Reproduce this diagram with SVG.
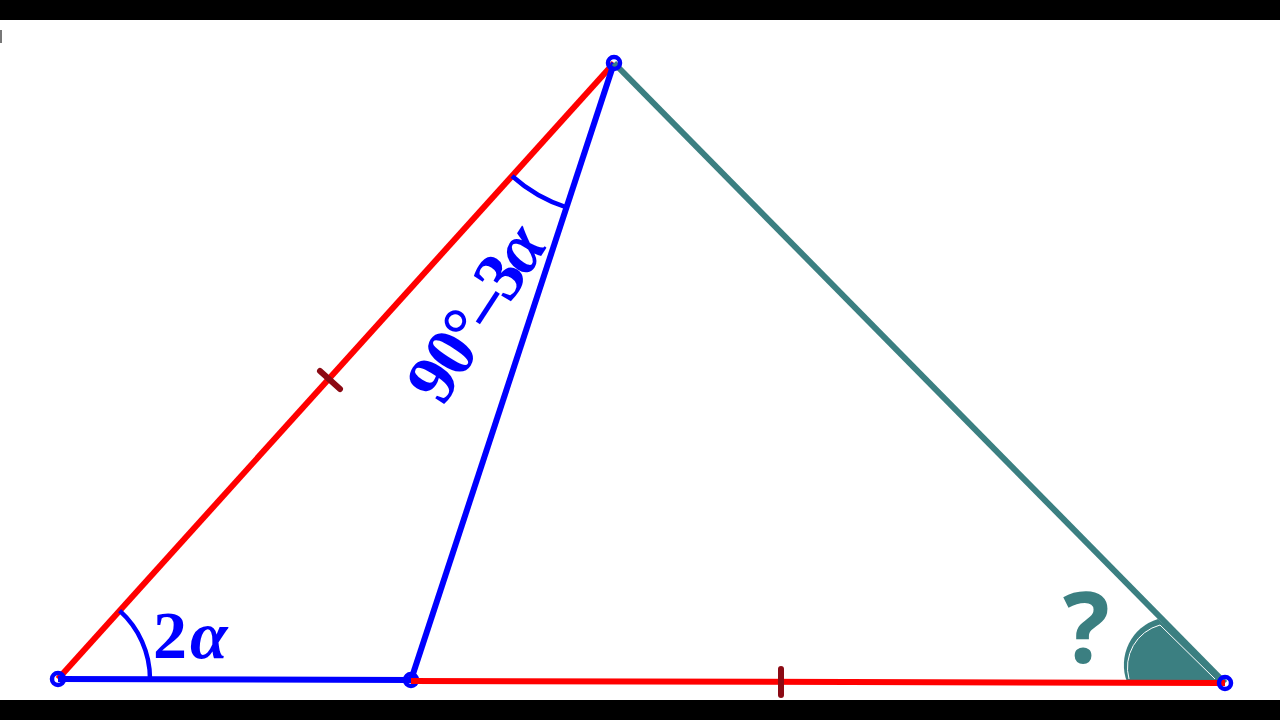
<svg xmlns="http://www.w3.org/2000/svg" width="1280" height="720" viewBox="0 0 1280 720">
<style>
.ln{stroke-width:6;fill:none;stroke-linecap:butt}
.red{stroke:#ff0000}
.blue{stroke:#0000ff}
.teal{stroke:#3b7f81}
.pt{fill:none;stroke:#0000ff;stroke-width:4.5}
.tick{stroke:#8b0a14;stroke-width:6;stroke-linecap:round}
.lbl{font-family:"Liberation Serif",serif;font-weight:bold;fill:#0000ff}
</style>
<rect x="0" y="0" width="1280" height="720" fill="#ffffff"/>
<rect x="0" y="0" width="1280" height="20" fill="#000000"/>
<rect x="0" y="700" width="1280" height="20" fill="#000000"/>
<rect x="0" y="30" width="2" height="13" fill="#777777"/>
<g id="angleC">
<path d="M1225,683 L1158,619 A48,48 0 0,0 1127,682 Z" fill="#3b7f81"/>
<path d="M1215,679 L1160,625 A44,44 0 0,0 1129,679" fill="none" stroke="#ffffff" stroke-width="1"/>
</g>
<g id="connectors">
<line id="AB" class="ln red" x1="58" y1="679" x2="614" y2="63"/>
<line id="AD" class="ln blue" x1="58" y1="679" x2="411" y2="680"/>
<line id="DB" class="ln blue" x1="411" y1="680" x2="614" y2="63"/>
<line id="BC" class="ln teal" x1="614" y1="63" x2="1225" y2="683"/>
</g>
<g id="A"><circle class="pt" cx="58" cy="679" r="6"/></g>
<g id="D"><circle class="pt" cx="411" cy="680" r="6"/></g>
<g id="B"><circle class="pt" cx="614" cy="63" r="6"/></g>
<line id="DC" class="ln red" x1="411" y1="681" x2="1225" y2="683"/>
<g id="C"><circle class="pt" cx="1225" cy="683" r="6"/></g>
<g id="ticks">
<line class="tick" x1="320" y1="371" x2="340" y2="389"/>
<line class="tick" x1="781" y1="669" x2="781" y2="695"/>
</g>
<g id="angleA">
<path d="M119.6,610.7 A92,92 0 0,1 150,679" fill="none" stroke="#0000ff" stroke-width="4.5"/>
<text class="lbl" x="153" y="658" font-size="68" letter-spacing="3">2<tspan font-style="italic">α</tspan></text>
</g>
<g id="angleB">
<path d="M512,176 A152,152 0 0,0 566.5,207.4" fill="none" stroke="#0000ff" stroke-width="4.5"/>
<text class="lbl" x="0" y="0" font-size="71" letter-spacing="-3" text-anchor="middle" transform="translate(495,327) rotate(-57)">90°–3<tspan font-style="italic">α</tspan></text>
</g>
<g id="question">
<text x="1063" y="663" font-family="'Open Sans','Liberation Sans',sans-serif" font-weight="bold" font-size="98" fill="#3b7f81">?</text>
</g>
</svg>
